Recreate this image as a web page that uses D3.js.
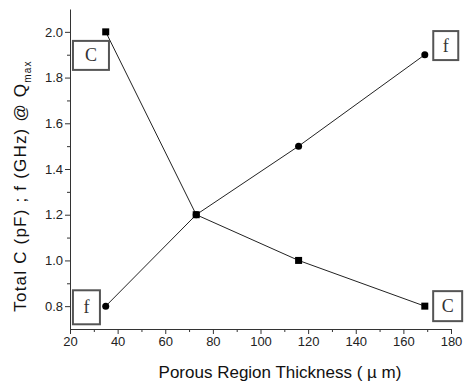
<!DOCTYPE html>
<html>
<head>
<meta charset="utf-8">
<script src="https://cdn.jsdelivr.net/npm/d3@7"></script>
<style>
  body { margin: 0; background: #fff; }
  .axis text { font-family: "Liberation Sans", Arial, sans-serif; font-size: 13px; fill: #222; }
  .axis path, .axis line { stroke: #333; }
  .title { font-family: "Liberation Sans", Arial, sans-serif; font-size: 17px; fill: #111; }
  .tag { font-family: "Liberation Serif", "Times New Roman", serif; font-size: 18px; fill: #333; }
</style>
</head>
<body>
<div class="chart"></div>
<script>
// thickness (um) for both series
let thickness = [35, 73, 116, 169];
// total capacitance C (pF)
let capValues = [2.0, 1.2, 1.0, 0.8];
// frequency f (GHz) at Q max
let freqValues = [0.8, 1.2, 1.5, 1.9];
let xTicks = [20, 40, 60, 80, 100, 120, 140, 160, 180];
let yTicks = [0.8, 1.0, 1.2, 1.4, 1.6, 1.8, 2.0];

// series tags, placed in data units
let tagText = ["C", "f", "f", "C"];
let tagX = [28.8, 26.9, 177.8, 178.6];
let tagY = [1.897, 0.795, 1.94, 0.80];

let width = 467, height = 389;
let svg = d3.select('.chart')
    .append('svg')
    .attr('width', width)
    .attr('height', height);

let xScale = d3.scaleLinear()
    .domain([20, 180])
    .range([70, 451]);

let yScale = d3.scaleLinear()
    .domain([0.7, 2.1])
    .range([329, 9]);

// minor ticks first, then major with labels
svg.append("g")
    .attr("class", "axis")
    .attr("transform", "translate(0,329)")
    .call(d3.axisBottom(xScale).tickValues(d3.range(30, 180, 20)).tickSize(3).tickFormat(""))
    .call(g => g.select(".domain").remove());

svg.append("g")
    .attr("class", "axis x-axis")
    .attr("transform", "translate(0,329)")
    .call(d3.axisBottom(xScale).tickValues(xTicks).tickSize(5).tickSizeOuter(0).tickPadding(3));

svg.append("g")
    .attr("class", "axis")
    .attr("transform", "translate(70,0)")
    .call(d3.axisLeft(yScale).tickValues(d3.range(0.9, 2.05, 0.2)).tickSize(3).tickFormat(""))
    .call(g => g.select(".domain").remove());

svg.append("g")
    .attr("class", "axis y-axis")
    .attr("transform", "translate(70,0)")
    .call(d3.axisLeft(yScale).tickValues(yTicks).tickSize(5).tickSizeOuter(0).tickPadding(2).tickFormat(d3.format(".1f")));

svg.append("text")
    .attr("class", "title")
    .attr("x", 280)
    .attr("y", 378)
    .attr("text-anchor", "middle")
    .text("Porous Region Thickness ( \u00b5 m)");

let yTitle = svg.append("text")
    .attr("class", "title")
    .attr("text-anchor", "middle")
    .attr("font-size", "16px")
    .attr("letter-spacing", "1.2px")
    .attr("transform", "translate(26,186) rotate(-90)");
yTitle.append("tspan").text("Total C (pF) ; f (GHz) @ Q");
yTitle.append("tspan").attr("font-size", "10px").attr("dy", 5).text("max");

let line = d3.line()
    .x((d, i) => xScale(thickness[i]))
    .y(d => yScale(d));

svg.append("path")
    .datum(capValues)
    .attr("d", line)
    .attr("fill", "none")
    .attr("stroke", "#222")
    .attr("stroke-width", 1);

svg.append("path")
    .datum(freqValues)
    .attr("d", line)
    .attr("fill", "none")
    .attr("stroke", "#222")
    .attr("stroke-width", 1);

svg.selectAll("rect.cap")
    .data(capValues)
    .enter()
    .append("rect")
    .attr("class", "cap")
    .attr("x", (d, i) => xScale(thickness[i]) - 3.5)
    .attr("y", d => yScale(d) - 3.5)
    .attr("width", 7)
    .attr("height", 7)
    .attr("fill", "#000");

svg.selectAll("circle.freq")
    .data(freqValues)
    .enter()
    .append("circle")
    .attr("class", "freq")
    .attr("cx", (d, i) => xScale(thickness[i]))
    .attr("cy", d => yScale(d))
    .attr("r", 3.5)
    .attr("fill", "#000");

// boxed C / f tags
let tagW = [36, 27, 25, 29], tagH = [29, 34, 29, 30];
let tags = svg.selectAll("g.tag")
    .data(tagText)
    .enter()
    .append("g")
    .attr("transform", (d, i) => `translate(${xScale(tagX[i])},${yScale(tagY[i])})`);
tags.append("rect")
    .attr("x", (d, i) => -tagW[i] / 2)
    .attr("y", (d, i) => -tagH[i] / 2)
    .attr("width", (d, i) => tagW[i])
    .attr("height", (d, i) => tagH[i])
    .attr("fill", "#fff")
    .attr("stroke", "#555")
    .attr("stroke-width", 2);
tags.append("text")
    .attr("class", "tag")
    .attr("text-anchor", "middle")
    .attr("dy", 6)
    .text(d => d);
</script>
</body>
</html>
